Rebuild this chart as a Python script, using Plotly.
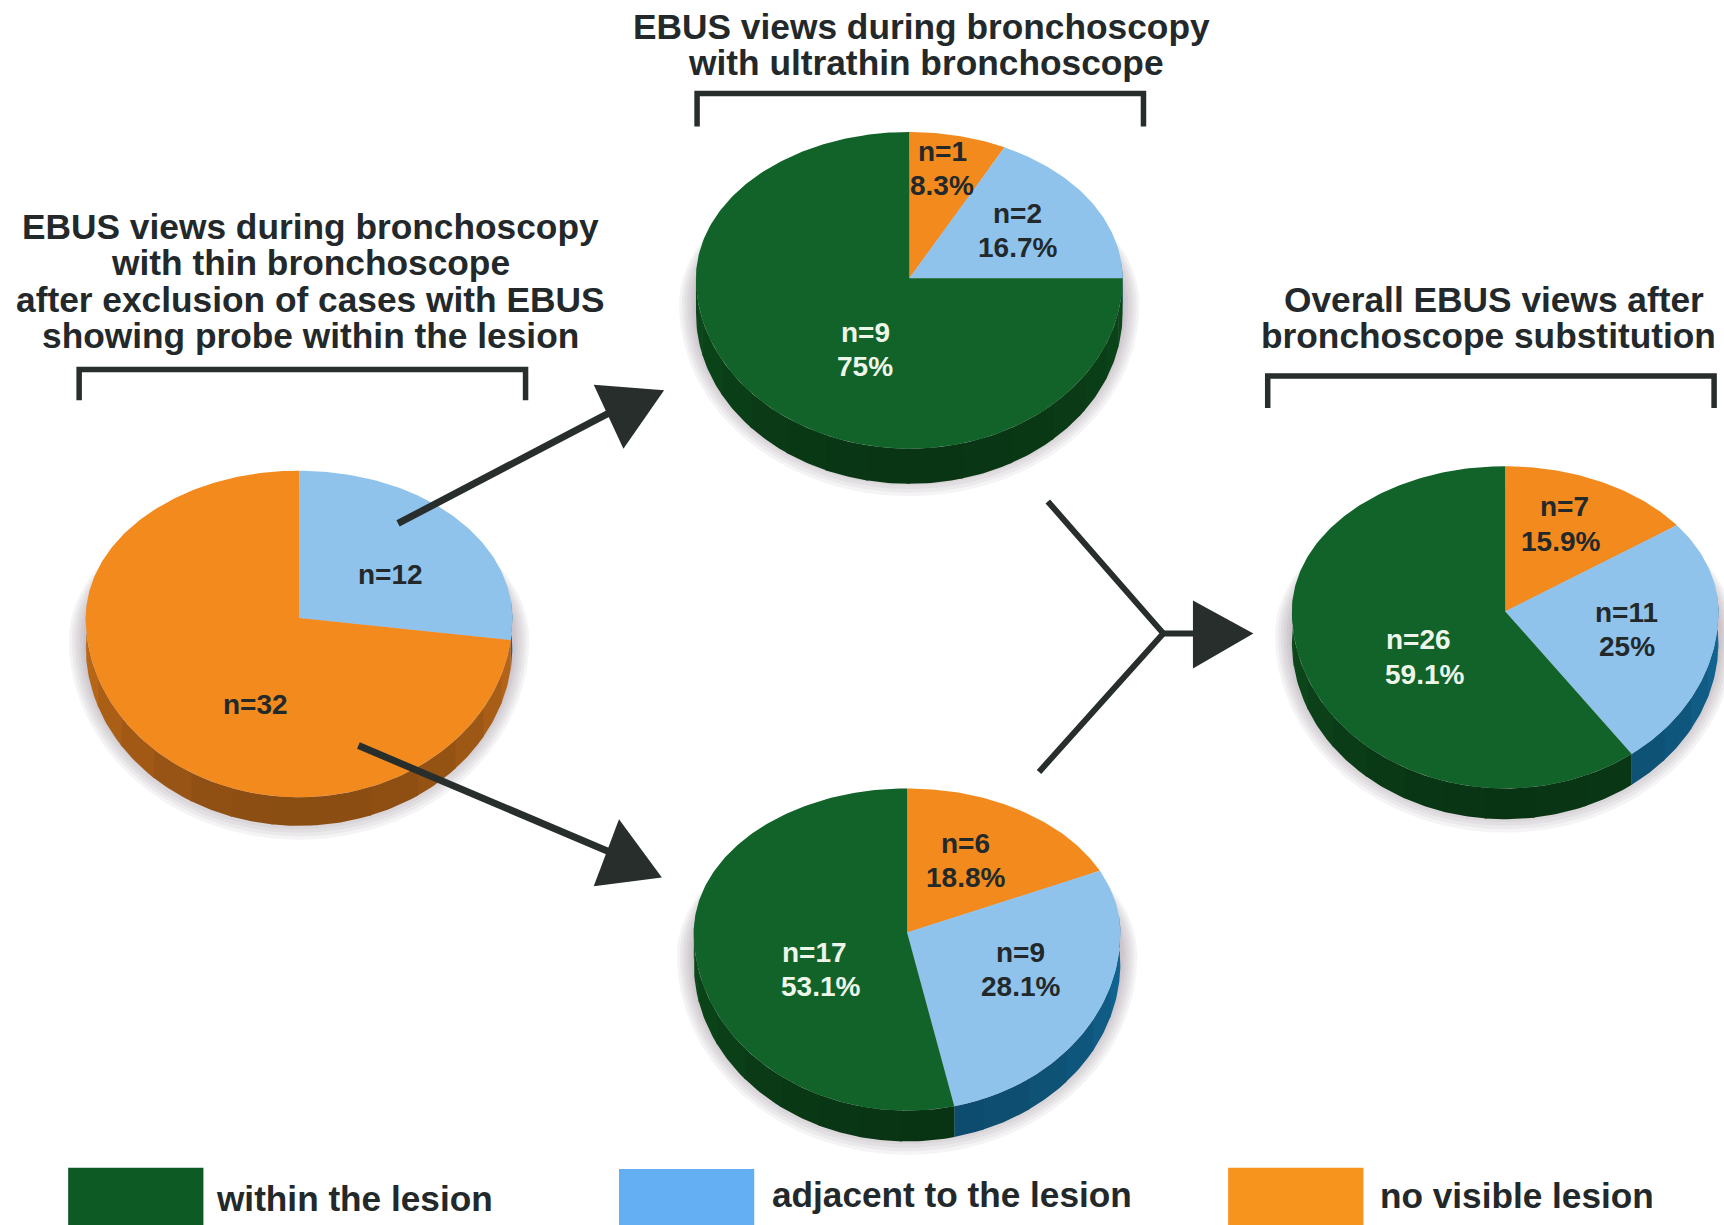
import math
import plotly.graph_objects as go

# ---- data ----
categories = ["within the lesion", "adjacent to the lesion", "no visible lesion"]
thin_order = ["adjacent to the lesion", "no visible lesion"]
thin_values = [12, 32]
ultrathin_order = ["no visible lesion", "adjacent to the lesion", "within the lesion"]
ultrathin_values = [1, 2, 9]
substitution_order = ["no visible lesion", "adjacent to the lesion", "within the lesion"]
substitution_lower_values = [6, 9, 17]
overall_values = [7, 11, 26]

title_thin = ["EBUS views during bronchoscopy", "with thin bronchoscope",
              "after exclusion of cases with EBUS", "showing probe within the lesion"]
title_ultrathin = ["EBUS views during bronchoscopy", "with ultrathin bronchoscope"]
title_overall = ["Overall EBUS views after", "bronchoscope substitution"]

# ---- styles / layout (coordinates are on a 1568 x 1114 plotting scale) ----
FACE = {"within the lesion": "#11632a", "adjacent to the lesion": "#8fc3ec", "no visible lesion": "#f28a1e"}
SIDE = {"within the lesion": (11, 63, 24), "adjacent to the lesion": (16, 90, 130), "no visible lesion": (165, 92, 22)}
SWATCH = {"within the lesion": "#0d5a25", "adjacent to the lesion": "#64aef4", "no visible lesion": "#f7941e"}
INK = "#272e2c"
FONT = "Liberation Sans"
DARKTXT = "#23292b"

PIES = [  # values, order, apex x, apex y, rx, top radius, bottom radius, depth
    (thin_values, thin_order, 272, 562, 194, 134, 163, 26),
    (ultrathin_values, ultrathin_order, 827, 253, 194, 133, 155, 32),
    (substitution_lower_values, substitution_order, 825, 848, 194, 131, 162, 28),
    (overall_values, substitution_order, 1369, 556, 194, 132, 161, 28),
]
TILT = math.radians(4)  # perspective of the drawn discs

fig = go.Figure()


def rim(ax, ay, rx, rt, rb, a):
    """Point on the pie outline, a = clockwise angle from 12 o'clock in radians."""
    w = a - TILT * abs(math.sin(2 * a))
    c = math.cos(w)
    return ax + rx * math.sin(w), ay - (rt if c >= 0 else rb) * c


def arc(ax, ay, rx, rt, rb, a0, a1):
    n = max(4, int(abs(a1 - a0) * 60))
    return [rim(ax, ay, rx, rt, rb, a0 + (a1 - a0) * i / n) for i in range(n + 1)]


def poly(pts, color):
    fig.add_trace(go.Scatter(x=[p[0] for p in pts], y=[p[1] for p in pts], mode="lines",
                             fill="toself", fillcolor=color, line=dict(width=0),
                             hoverinfo="skip", showlegend=False))


def shade(rgb, a):
    # side wall darkens towards the bottom of the disc
    f = 1.18 + 0.34 * math.cos(a) if math.cos(a) < 0 else 1.18
    return "rgb(%d,%d,%d)" % tuple(min(255, int(v * f)) for v in rgb)


for values, order, ax, ay, rx, rt, rb, depth in PIES:
    # soft drop shadow
    for k in range(6, 0, -1):
        g = 3.2 * k
        pts = arc(ax, ay + depth * 0.75, rx + g * 0.8, rt, rb + g, 0, 2 * math.pi)
        poly(pts, "rgba(120,100,110,0.07)")
    total = sum(values)
    run = 0
    spans = []
    for v, name in zip(values, order):
        a0 = 2 * math.pi * run / total
        run += v
        a1 = 2 * math.pi * run / total
        spans.append((a0, a1, name))
    step = math.pi / 14
    for a0, a1, name in spans:
        lo = max(a0, math.pi / 2 - 0.1)
        hi = min(a1, 3 * math.pi / 2 + 0.1)
        s = lo
        while s < hi:
            e = min(hi, s + step)
            pts = arc(ax, ay, rx, rt, rb, s, min(hi, e + 0.01))
            low = [(x, y + depth) for x, y in reversed(pts)]
            poly(pts + low, shade(SIDE[name], (s + e) / 2))
            s = e
    for a0, a1, name in spans:
        pts = arc(ax, ay, rx, rt, rb, a0, a1)
        poly([(ax, ay)] + pts + [(ax, ay)], FACE[name])


def stroke(xs, ys, w=5.5):
    fig.add_trace(go.Scatter(x=xs, y=ys, mode="lines", line=dict(color=INK, width=w),
                             hoverinfo="skip", showlegend=False))


# brackets
stroke([72, 72, 478, 478], [364, 336, 336, 364])
stroke([634, 634, 1040, 1040], [115, 85, 85, 115])
stroke([1153, 1153, 1559, 1559], [371, 342, 342, 371])

# arrows
stroke([362, 555], [476, 375], 7)
poly([(604, 355), (540, 350), (567, 408)], INK)
stroke([326, 555], [678, 775], 7)
poly([(602, 798), (563, 745), (540, 806)], INK)
stroke([953, 1058, 945], [456, 576, 702], 6)
stroke([1058, 1090], [576, 576], 6)
poly([(1085, 546), (1140, 576), (1085, 608)], INK)

# legend swatches
for (x0, x1, y0), name in zip([(62, 185, 1062), (563, 686, 1063), (1117, 1240, 1062)], categories):
    poly([(x0, y0), (x1, y0), (x1, 1114), (x0, 1114), (x0, y0)], SWATCH[name])

ann = []


def txt(x, y, s, size, color=DARKTXT, anchor="center"):
    ann.append(dict(x=x, y=y, text="<b>" + s + "</b>", xref="x", yref="y", showarrow=False,
                    xanchor=anchor, yanchor="middle",
                    font=dict(family=FONT, size=size, color=color)))


# titles
TS = 35.3
for (x, y), s in zip([(282, 206), (282, 239), (282, 272), (282, 305)], title_thin):
    txt(x, y, s, TS)
for (x, y), s in zip([(838, 24), (842, 57)], title_ultrathin):
    txt(x, y, s, TS)
for (x, y), s in zip([(1359, 272.5), (1354, 305.5)], title_overall):
    txt(x, y, s, TS)


def pct(v, vals):
    p = 100 * v / sum(vals)
    s = f"{p:.1f}"
    return (s[:-2] if s.endswith(".0") else s) + "%"


LS = 28
WHITE = "#eef6ea"
txt(355, 522, f"n={thin_values[0]}", LS)
txt(232, 641, f"n={thin_values[1]}", LS)
groups = [
    (ultrathin_values, [(857, 138, 857, 169), (925, 194, 925, 225), (787, 302, 787, 333)]),
    (substitution_lower_values, [(878, 767, 878, 798), (928, 866, 928, 897), (741, 866, 746, 897)]),
    (overall_values, [(1423, 461, 1419, 492), (1479, 557, 1480, 588), (1290, 582, 1296, 613)]),
]
for vals, places in groups:
    for i, (v, (x1, y1, x2, y2)) in enumerate(zip(vals, places)):
        col = WHITE if i == 2 else DARKTXT
        txt(x1, y1, f"n={v}", LS, col)
        txt(x2, y2, pct(v, vals), LS, col)

# legend text
LG = 35.2
txt(195, 1090, categories[0], LG, anchor="left")
txt(700, 1086, categories[1], LG, anchor="left")
txt(1253, 1087, categories[2], LG, anchor="left")

fig.update_layout(
    width=1724, height=1225, margin=dict(l=0, r=0, t=0, b=0, pad=0),
    paper_bgcolor="white", plot_bgcolor="white", showlegend=False, annotations=ann,
    xaxis=dict(range=[0, 1568], visible=False, fixedrange=True),
    yaxis=dict(range=[1114, 0], visible=False, fixedrange=True),
)
fig.write_html("out.html", config={"displayModeBar": False},
               post_script="document.body.style.margin='0';document.body.style.overflow='hidden';")
